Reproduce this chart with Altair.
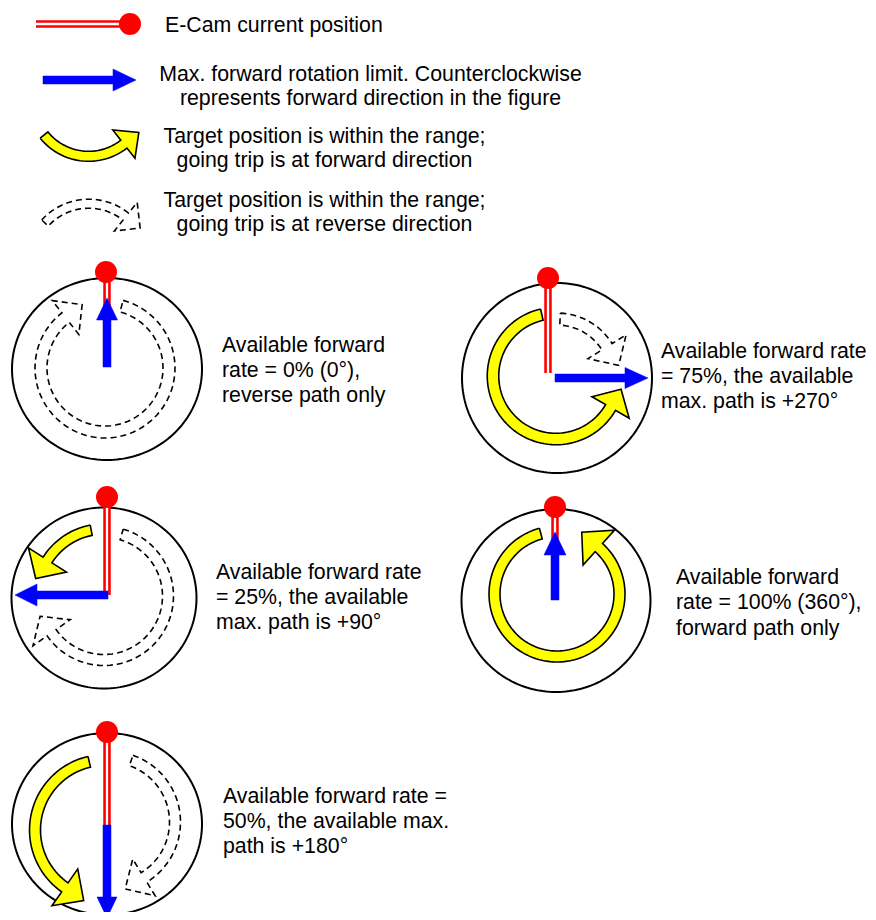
import math
import altair as alt
import pandas as pd

alt.data_transformers.disable_max_rows()

# ---------------- frame (page pixels; chart sits at an 8px page margin) -------------
W, H = 860, 904

# ---------------- outer dials ----------------
dial_cx = [107, 557, 104, 556, 107]
dial_cy = [369, 378, 598, 600.5, 824]
dial_rx = [95, 95, 92.5, 94.5, 95]
dial_ry = [91, 95, 90.5, 91.5, 91]

# ---------------- E-Cam current position (red double line + dot); legend first ------
red_x1 = [36, 107, 548, 107, 555, 107]
red_y1 = [24, 281, 286, 505, 515, 741]
red_x2 = [121, 107, 548, 107, 555, 107]
red_y2 = [24, 367, 373, 595, 600, 825]
dot_x = [130, 106, 548, 107, 555, 107]
dot_y = [24, 272, 278, 497, 507, 732]
dot_r = 11

# ---------------- max forward rotation limit (blue arrows); legend first -------------
blue_x0 = [43, 107, 555, 108, 555, 107]
blue_y0 = [80, 367, 378, 595, 600, 825]
blue_x1 = [136, 107, 648, 15, 555, 107]
blue_y1 = [80, 298, 378, 595, 532, 918]
blue_hl = [23, 22, 23, 22, 23, 21]
blue_hh = [11, 10.5, 10.5, 11, 11, 10]
blue_sw = 8

# ---------------- forward paths (yellow curved arrows); legend, 75%, 25%, 100%, 50% --
yel_cx = [88.6, 556, 104, 557, 105]
yel_cy = [99, 376, 596, 594, 830]
yel_r = [57.3, 63, 67, 62.5, 70]
yel_w = [10, 11.5, 10.5, 11, 11]
yel_a0 = [219, 103, 101, 105, 103]
yel_a1 = [308, 330, 147.5, 408, 235]
yel_hw = [36, 43, 45, 47, 45]
yel_hl = [19, 21, 22, 23, 23]

# ---------------- reverse paths (dashed curved arrows); legend, 0%, 75%, 25%, 50% ----
dash_cx = [88.8, 105, 557, 104, 110]
dash_cy = [263, 368, 378, 596, 822]
dash_r = [59.3, 64, 59, 64, 65]
dash_w = [9, 12, 12, 11, 11]
dash_a0 = [137.6, 75, 87, 74, 71]
dash_a1 = [51.4, -232, 32, -145, -58.5]
dash_hw = [36.6, 43, 45, 45.5, 43]
dash_hl = [18.3, 21, 22, 20, 22]

# ---------------- texts ----------------
legend_left_text = ["E-Cam current position"]
legend_left_x = [165]
legend_left_y = [32]

legend_center_text = [
    "Max. forward rotation limit. Counterclockwise",
    "represents forward direction in the figure",
    "Target position is within the range;",
    "going trip is at forward direction",
    "Target position is within the range;",
    "going trip is at reverse direction",
]
legend_center_x = [370.5, 370.5, 324.5, 324.5, 324.5, 324.5]
legend_center_y = [81, 105, 143, 167, 207, 231]

caption_text = [
    "Available forward", "rate = 0% (0°),", "reverse path only",
    "Available forward rate", "= 75%, the available", "max. path is +270°",
    "Available forward rate", "= 25%, the available", "max. path is +90°",
    "Available forward", "rate = 100% (360°),", "forward path only",
    "Available forward rate =", "50%, the available max.", "path is +180°",
]
caption_x = [222] * 3 + [661] * 3 + [216] * 3 + [676] * 3 + [223] * 3
caption_y = [352, 377, 402, 358, 383, 408, 579, 604, 629, 584, 609, 635, 803, 828, 853]


# ---------------- geometry helpers ----------------
def ellipse(cx, cy, rx, ry, step=2):
    pts = []
    for k in range(0, 361, step):
        a = math.radians(k)
        pts.append((cx + rx * math.cos(a), cy - ry * math.sin(a)))
    return pts


def arc_arrow(cx, cy, r, w, a0, a1, hw, hl):
    s = 1 if a1 > a0 else -1
    n = max(8, int(abs(a1 - a0) / 3))
    angs = [a0 + (a1 - a0) * k / n for k in range(n + 1)]

    def pt(rad, a):
        t = math.radians(a)
        return (cx + rad * math.cos(t), cy - rad * math.sin(t))

    outer = [pt(r + w / 2, a) for a in angs]
    inner = [pt(r - w / 2, a) for a in reversed(angs)]
    te = math.radians(a1)
    mx, my = pt(r, a1)
    tx, ty = -s * math.sin(te), -s * math.cos(te)
    tip = (mx + hl * tx, my + hl * ty)
    return outer + [pt(r + hw / 2, a1), tip, pt(r - hw / 2, a1)] + inner + [outer[0]]


def straight_arrow(x0, y0, x1, y1, sw, hl, hh):
    L = math.hypot(x1 - x0, y1 - y0)
    ux, uy = (x1 - x0) / L, (y1 - y0) / L
    nx, ny = -uy, ux
    bx, by = x1 - ux * hl, y1 - uy * hl
    h = sw / 2
    pts = [
        (x0 + nx * h, y0 + ny * h),
        (bx + nx * h, by + ny * h),
        (bx + nx * hh, by + ny * hh),
        (x1, y1),
        (bx - nx * hh, by - ny * hh),
        (bx - nx * h, by - ny * h),
        (x0 - nx * h, y0 - ny * h),
    ]
    return pts + [pts[0]]


def to_rows(sid, pts):
    return [{"sid": sid, "i": i, "x": x, "y": y} for i, (x, y) in enumerate(pts)]


dial_rows, yel_rows, dash_rows, blue_rows = [], [], [], []
for k in range(len(dial_cx)):
    dial_rows += to_rows(f"d{k}", ellipse(dial_cx[k], dial_cy[k], dial_rx[k], dial_ry[k]))
for k in range(len(yel_cx)):
    yel_rows += to_rows(f"y{k}", arc_arrow(yel_cx[k], yel_cy[k], yel_r[k], yel_w[k],
                                          yel_a0[k], yel_a1[k], yel_hw[k], yel_hl[k]))
for k in range(len(dash_cx)):
    dash_rows += to_rows(f"r{k}", arc_arrow(dash_cx[k], dash_cy[k], dash_r[k], dash_w[k],
                                           dash_a0[k], dash_a1[k], dash_hw[k], dash_hl[k]))
for k in range(len(blue_x0)):
    blue_rows += to_rows(f"b{k}", straight_arrow(blue_x0[k], blue_y0[k], blue_x1[k], blue_y1[k],
                                                blue_sw, blue_hl[k], blue_hh[k]))

dial_df = pd.DataFrame(dial_rows)
yel_df = pd.DataFrame(yel_rows)
dash_df = pd.DataFrame(dash_rows)
blue_df = pd.DataFrame(blue_rows)
red_df = pd.DataFrame({"x": red_x1, "y": red_y1, "x2": red_x2, "y2": red_y2})
dot_df = pd.DataFrame({"x": dot_x, "y": dot_y})
tl_df = pd.DataFrame({"x": legend_left_x, "y": legend_left_y, "txt": legend_left_text})
tc_df = pd.DataFrame({"x": legend_center_x, "y": legend_center_y, "txt": legend_center_text})
cap_df = pd.DataFrame({"x": caption_x, "y": caption_y, "txt": caption_text})

xs = alt.Scale(domain=[8, 8 + W], nice=False, zero=False)
ys = alt.Scale(domain=[8, 8 + H], nice=False, zero=False, reverse=True)
X = alt.X("x:Q", scale=xs, axis=None)
Y = alt.Y("y:Q", scale=ys, axis=None)

poly_enc = dict(x=X, y=Y, detail="sid:N", order="i:Q")

dials = alt.Chart(dial_df).mark_line(color="black", strokeWidth=2).encode(**poly_enc)
yellow = alt.Chart(yel_df).mark_line(fill="#FFFF00", stroke="black", strokeWidth=1.6,
                                     strokeJoin="miter").encode(**poly_enc)
dashed = alt.Chart(dash_df).mark_line(stroke="black", strokeWidth=1.6, strokeDash=[6, 4]
                                      ).encode(**poly_enc)
red_outer = alt.Chart(red_df).mark_rule(color="#FF0000", strokeWidth=7.5, strokeCap="butt").encode(
    x=X, y=Y, x2="x2:Q", y2="y2:Q")
red_inner = alt.Chart(red_df).mark_rule(color="white", strokeWidth=2.3, strokeCap="butt").encode(
    x=X, y=Y, x2="x2:Q", y2="y2:Q")
dots = alt.Chart(dot_df).mark_circle(color="#FF0000", opacity=1, size=(2 * dot_r) ** 2).encode(x=X, y=Y)
blue = alt.Chart(blue_df).mark_line(fill="#0000FF", stroke="#0000FF", strokeWidth=0.5).encode(**poly_enc)

txt_props = dict(font="Liberation Sans", fontSize=21.3, color="black", baseline="alphabetic")
t_left = alt.Chart(tl_df).mark_text(align="left", **txt_props).encode(x=X, y=Y, text="txt:N")
t_center = alt.Chart(tc_df).mark_text(align="center", **txt_props).encode(x=X, y=Y, text="txt:N")
t_cap = alt.Chart(cap_df).mark_text(align="left", **txt_props).encode(x=X, y=Y, text="txt:N")

chart = alt.layer(
    dials, yellow, dashed, red_outer, red_inner, dots, blue, t_left, t_center, t_cap
).properties(
    width=W, height=H, padding=0, autosize=alt.AutoSizeParams(type="none")
).configure_view(strokeWidth=0)

chart.save("out.html", embed_options={"renderer": "svg", "actions": False})
